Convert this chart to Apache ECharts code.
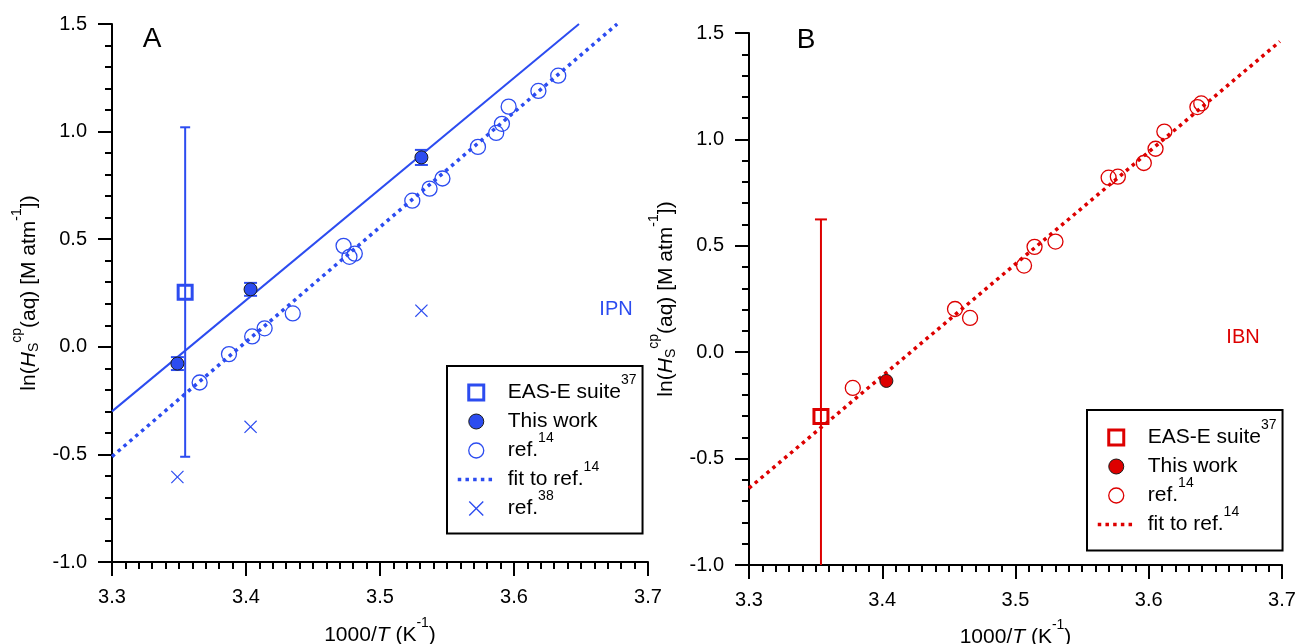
<!DOCTYPE html>
<html>
<head>
<meta charset="utf-8">
<script src="https://cdn.jsdelivr.net/npm/echarts@6/dist/echarts.min.js"></script>
<style>
  html, body { margin: 0; padding: 0; background: #fff; }
  #chart { width: 1297px; height: 644px; }
</style>
</head>
<body>
<div id="chart"></div>
<script>
// ---- panel A (IPN) ----
const easA = [[3.3546, 0.254]]
const easErrA = [[3.3546, -0.511, 1.02]]
const workA = [[3.3488, -0.078], [3.4034, 0.267], [3.5309, 0.880]]
const workErrA = [[3.3488, -0.108, -0.048], [3.4034, 0.237, 0.297], [3.5309, 0.845, 0.915]]
const refA = [
  [3.3654, -0.166], [3.3873, -0.034], [3.4046, 0.048], [3.4139, 0.086], [3.4349, 0.155],
  [3.4728, 0.469], [3.4772, 0.418], [3.4812, 0.433], [3.5241, 0.679], [3.5370, 0.735],
  [3.5466, 0.782], [3.5731, 0.929], [3.5867, 0.994], [3.5910, 1.036], [3.5960, 1.116],
  [3.6182, 1.189], [3.6330, 1.260]
]
const fitWorkA = [[3.3, -0.30], [3.6485, 1.5]]
const fitRefA = [[3.3, -0.51], [3.677, 1.5]]
const ref38A = [[3.3488, -0.605], [3.4034, -0.372], [3.5309, 0.168]]

// ---- panel B (IBN) ----
const easB = [[3.3540, -0.302]]
const easErrB = [[3.3540, -1.227, 0.624]]
const workB = [[3.4031, -0.135]]
const refB = [
  [3.3779, -0.168], [3.4546, 0.203], [3.4659, 0.161], [3.5064, 0.407], [3.5143, 0.495],
  [3.5300, 0.520], [3.5699, 0.820], [3.5768, 0.825], [3.5963, 0.889], [3.6051, 0.956],
  [3.6117, 1.037], [3.6365, 1.152], [3.6394, 1.169]
]
const fitRefB = [[3.3, -0.639], [3.6984, 1.46]]

const xRange = [3.3, 3.7]
const yRange = [-1.0, 1.5]

const BLUE = '#2c4cf0'
const RED = '#dd0000'
const FONT = '"Liberation Sans", Arial, sans-serif'

const SQUARE = 'path://M0,0L10,0L10,10L0,10Z'
const CROSS = 'path://M0,6.5L6.5,0L50,43.5L93.5,0L100,6.5L56.5,50L100,93.5L93.5,100L50,56.5L6.5,100L0,93.5L43.5,50Z'

// every row gets a superscript token so all legend rows have the same height
const legendText = {
  easA: '{t|EAS-E suite}{s|37}', workA: '{t|This work}{s| }', refA: '{t|ref.}{s|14}',
  fitA: '{t|fit to ref.}{s|14}', r38A: '{t|ref.}{s|38}',
  easB: '{t|EAS-E suite}{s|37}', workB: '{t|This work}{s| }', refB: '{t|ref.}{s|14}',
  fitB: '{t|fit to ref.}{s|14}'
}

const titleRich = {
  t: { fontSize: 21, lineHeight: 29, fontFamily: FONT, color: '#000' },
  i: { fontSize: 21, lineHeight: 29, fontFamily: FONT, color: '#000', fontStyle: 'italic' },
  s: { fontSize: 14, lineHeight: 5, fontFamily: FONT, color: '#000', padding: [0, 0, 24, 0] },
  b: { fontSize: 14, lineHeight: 5, fontFamily: FONT, color: '#000', padding: [10, 0, 0, 0] }
}

const legendRich = {
  t: { fontSize: 21, lineHeight: 29, fontFamily: FONT, color: '#000', padding: [0, 0, 0, 8] },
  s: { fontSize: 14, lineHeight: 5, fontFamily: FONT, color: '#000', padding: [0, 0, 24, 0] }
}

function errorBar(cap) {
  return function (params, api) {
    const x = api.value(0)
    const lo = api.coord([x, api.value(1)])
    const hi = api.coord([x, api.value(2)])
    const style = { stroke: api.visual('color'), lineWidth: 2 }
    return {
      type: 'group',
      children: [
        { type: 'line', shape: { x1: lo[0], y1: lo[1], x2: hi[0], y2: hi[1] }, style },
        { type: 'line', shape: { x1: lo[0] - cap / 2, y1: lo[1], x2: lo[0] + cap / 2, y2: lo[1] }, style },
        { type: 'line', shape: { x1: hi[0] - cap / 2, y1: hi[1], x2: hi[0] + cap / 2, y2: hi[1] }, style }
      ]
    }
  }
}

function xAxisOf(gridIndex, gap) {
  return {
    type: 'value', gridIndex, min: xRange[0], max: xRange[1], interval: 0.1,
    axisLine: { show: true, onZero: false, lineStyle: { color: '#000', width: 2 } },
    axisTick: { show: true, inside: false, length: 14, lineStyle: { color: '#000', width: 2 } },
    minorTick: { show: true, splitNumber: 10, length: 7, lineStyle: { color: '#000', width: 2 } },
    splitLine: { show: false },
    minorSplitLine: { show: false },
    axisLabel: { color: '#000', fontSize: 20, fontFamily: FONT, margin: 25, formatter: v => v.toFixed(1) },
    name: '{t|1000/}{i|T}{t| (K}{s|-1}{t|)}',
    nameLocation: 'middle', nameGap: gap,
    nameTextStyle: { rich: titleRich }
  }
}

function yAxisOf(gridIndex, gap) {
  return {
    type: 'value', gridIndex, min: yRange[0], max: yRange[1], interval: 0.5,
    axisLine: { show: true, onZero: false, lineStyle: { color: '#000', width: 2 } },
    axisTick: { show: true, inside: false, length: 14, lineStyle: { color: '#000', width: 2 } },
    minorTick: { show: true, splitNumber: 5, length: 7, lineStyle: { color: '#000', width: 2 } },
    splitLine: { show: false },
    minorSplitLine: { show: false },
    axisLabel: { color: '#000', fontSize: 20, fontFamily: FONT, margin: 25, formatter: v => v.toFixed(1) },
    name: '{t|ln(}{i|H}{b|S}{s|cp}{t|(aq) [M atm}{s|-1}{t|])}',
    nameLocation: 'middle', nameGap: gap, nameRotate: 90,
    nameTextStyle: { rich: titleRich }
  }
}

function legendOf(left, top, padding, items) {
  return {
    orient: 'vertical', left, top, padding, itemGap: -9, itemWidth: 37, itemHeight: 15,
    borderColor: '#000', borderWidth: 2, selectedMode: false,
    data: items,
    formatter: n => legendText[n],
    textStyle: { color: '#000', fontFamily: FONT, fontSize: 21, rich: legendRich }
  }
}

const dotted = [3.5, 4.2]
const noDot = { color: 'transparent', borderWidth: 0 }

let chart = echarts.init(document.getElementById('chart'))

chart.setOption({
  animation: false,
  grid: [
    { left: 112, top: 24, width: 536, height: 538, outerBoundsMode: 'none' },
    { left: 749, top: 33, width: 533, height: 532, outerBoundsMode: 'none' }
  ],
  xAxis: [xAxisOf(0, 59), xAxisOf(1, 58)],
  yAxis: [yAxisOf(0, 55), yAxisOf(1, 56)],
  legend: [
    legendOf(447, 366, [7.5, 6, 6, 9], [
      { name: 'easA', itemStyle: { color: 'transparent', borderColor: BLUE, borderWidth: 3 } },
      { name: 'workA', itemStyle: { color: BLUE, borderColor: '#1a1a1a', borderWidth: 1 } },
      { name: 'refA', itemStyle: { color: 'transparent', borderColor: BLUE, borderWidth: 1.3 } },
      { name: 'fitA', itemStyle: noDot, lineStyle: { color: BLUE, width: 3.5, type: dotted } },
      { name: 'r38A', itemStyle: { color: BLUE, borderWidth: 0 } }
    ]),
    legendOf(1087, 410, [8.5, 6, 7, 9], [
      { name: 'easB', itemStyle: { color: 'transparent', borderColor: RED, borderWidth: 3 } },
      { name: 'workB', itemStyle: { color: RED, borderColor: '#1a1a1a', borderWidth: 1 } },
      { name: 'refB', itemStyle: { color: 'transparent', borderColor: RED, borderWidth: 1.3 } },
      { name: 'fitB', itemStyle: noDot, lineStyle: { color: RED, width: 3.5, type: dotted } }
    ])
  ],
  graphic: [
    { type: 'text', x: 152, y: 39, style: { text: 'A', font: '28px ' + FONT, fill: '#000', align: 'center', verticalAlign: 'middle' } },
    { type: 'text', x: 806, y: 40, style: { text: 'B', font: '28px ' + FONT, fill: '#000', align: 'center', verticalAlign: 'middle' } },
    { type: 'text', x: 616, y: 309, style: { text: 'IPN', font: '20px ' + FONT, fill: BLUE, align: 'center', verticalAlign: 'middle' } },
    { type: 'text', x: 1243, y: 337, style: { text: 'IBN', font: '20px ' + FONT, fill: RED, align: 'center', verticalAlign: 'middle' } }
  ],
  series: [
    // panel A
    { name: 'errEasA', type: 'custom', xAxisIndex: 0, yAxisIndex: 0, data: easErrA, encode: { x: 0, y: [1, 2] },
      renderItem: errorBar(10), itemStyle: { color: BLUE }, clip: true, z: 1, silent: true },
    { name: 'errWorkA', type: 'custom', xAxisIndex: 0, yAxisIndex: 0, data: workErrA, encode: { x: 0, y: [1, 2] },
      renderItem: errorBar(13), itemStyle: { color: BLUE }, clip: true, z: 1, silent: true },
    { name: 'fitWorkA', type: 'line', xAxisIndex: 0, yAxisIndex: 0, data: fitWorkA, symbol: 'none',
      lineStyle: { color: BLUE, width: 2 }, z: 2, silent: true },
    { name: 'fitA', type: 'line', xAxisIndex: 0, yAxisIndex: 0, data: fitRefA, symbol: 'none',
      lineStyle: { color: BLUE, width: 3.5, type: dotted, cap: 'butt' }, itemStyle: { color: BLUE }, z: 2, silent: true },
    { name: 'refA', type: 'scatter', xAxisIndex: 0, yAxisIndex: 0, data: refA, symbol: 'circle', symbolSize: 15,
      itemStyle: { color: 'transparent', borderColor: BLUE, borderWidth: 1.3, opacity: 1 }, z: 3, silent: true },
    { name: 'workA', type: 'scatter', xAxisIndex: 0, yAxisIndex: 0, data: workA, symbol: 'circle', symbolSize: 13,
      itemStyle: { color: BLUE, borderColor: '#1a1a1a', borderWidth: 1, opacity: 1 }, z: 4, silent: true },
    { name: 'easA', type: 'scatter', xAxisIndex: 0, yAxisIndex: 0, data: easA, symbol: SQUARE, symbolSize: 14,
      itemStyle: { color: 'transparent', borderColor: BLUE, borderWidth: 3, opacity: 1 }, z: 4, silent: true },
    { name: 'r38A', type: 'scatter', xAxisIndex: 0, yAxisIndex: 0, data: ref38A, symbol: CROSS, symbolSize: 13,
      itemStyle: { color: BLUE, opacity: 1 }, z: 3, silent: true },

    // panel B
    { name: 'errEasB', type: 'custom', xAxisIndex: 1, yAxisIndex: 1, data: easErrB, encode: { x: 0, y: [1, 2] },
      renderItem: errorBar(12), itemStyle: { color: RED }, clip: true, z: 1, silent: true },
    { name: 'fitB', type: 'line', xAxisIndex: 1, yAxisIndex: 1, data: fitRefB, symbol: 'none',
      lineStyle: { color: RED, width: 3.5, type: dotted, cap: 'butt' }, itemStyle: { color: RED }, z: 2, silent: true },
    { name: 'refB', type: 'scatter', xAxisIndex: 1, yAxisIndex: 1, data: refB, symbol: 'circle', symbolSize: 15,
      itemStyle: { color: 'transparent', borderColor: RED, borderWidth: 1.3, opacity: 1 }, z: 3, silent: true },
    { name: 'workB', type: 'scatter', xAxisIndex: 1, yAxisIndex: 1, data: workB, symbol: 'circle', symbolSize: 13,
      itemStyle: { color: RED, borderColor: '#1a1a1a', borderWidth: 1, opacity: 1 }, z: 4, silent: true },
    { name: 'easB', type: 'scatter', xAxisIndex: 1, yAxisIndex: 1, data: easB, symbol: SQUARE, symbolSize: 14,
      itemStyle: { color: 'transparent', borderColor: RED, borderWidth: 3, opacity: 1 }, z: 4, silent: true }
  ]
})
</script>
</body>
</html>
